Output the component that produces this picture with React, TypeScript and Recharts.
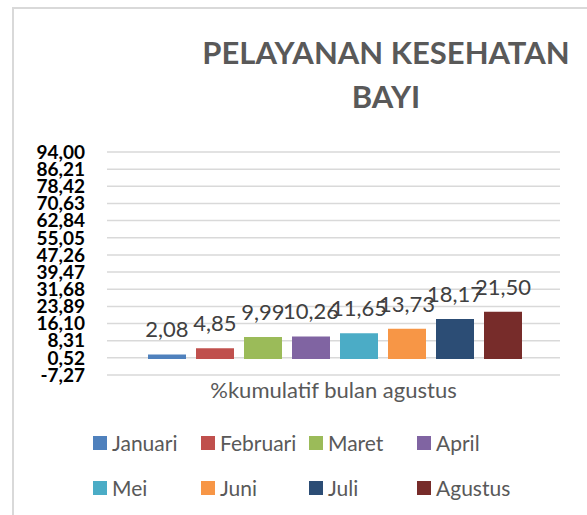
import React from "react";
import { BarChart, Bar, XAxis, YAxis, CartesianGrid, Legend, LabelList } from "recharts";

const categories = ["%kumulatif bulan agustus"];
const seriesNames = ["Januari", "Februari", "Maret", "April", "Mei", "Juni", "Juli", "Agustus"];
const seriesValues = [2.08, 4.85, 9.99, 10.26, 11.65, 13.73, 18.17, 21.5];
const seriesColors = ["#4F81BD", "#C0504D", "#9BBB59", "#8064A2", "#4BACC6", "#F79646", "#2C4D75", "#772C2A"];
const yTicks = [-7.27, 0.52, 8.31, 16.1, 23.89, 31.68, 39.47, 47.26, 55.05, 62.84, 70.63, 78.42, 86.21, 94.0];
const title = ["PELAYANAN KESEHATAN", "BAYI"];

const data = categories.map((c) => {
  const row: Record<string, any> = { category: c };
  seriesNames.forEach((n, i) => {
    row[n] = seriesValues[i];
  });
  return row;
});

const FONT = "Lato, 'Noto Sans', sans-serif";
const fmt = (v: number) => v.toFixed(2).replace(".", ",");

const LegendContent = (props: any) => {
  const payload = props.payload || [];
  const items = seriesNames.map((n, i) => {
    const p = payload.find((q: any) => q.value === n || q.dataKey === n);
    return { name: n, color: (p && p.color) || seriesColors[i] };
  });
  return (
    <div
      style={{
        display: "grid",
        gridTemplateColumns: "repeat(4, 108px)",
        gridAutoRows: "45px",
        paddingLeft: 93,
        fontFamily: FONT,
        fontSize: 21,
        color: "#595959",
      }}
    >
      {items.map((p) => (
        <div key={p.name} style={{ display: "flex", alignItems: "center", whiteSpace: "nowrap" }}>
          <span style={{ display: "inline-block", width: 14, height: 14, background: p.color, marginRight: 5 }} />
          <span>{p.name}</span>
        </div>
      ))}
    </div>
  );
};

export default function App() {
  return (
    <div style={{ position: "absolute", left: 0, top: 0, width: 587, height: 515, overflow: "hidden", background: "#fff" }}>
      <div
        style={{
          position: "absolute",
          left: 12,
          top: 7,
          width: 700,
          height: 700,
          borderLeft: "2px solid #d9d9d9",
          borderTop: "2px solid #d9d9d9",
        }}
      />
      <div
        style={{
          position: "absolute",
          left: 186,
          top: 30,
          width: 400,
          textAlign: "center",
          fontFamily: FONT,
          fontWeight: 700,
          fontSize: 31,
          lineHeight: "44px",
          color: "#595959",
          zIndex: 2,
        }}
      >
        {title.map((t) => (
          <div key={t}>{t}</div>
        ))}
      </div>
      <BarChart
        width={587}
        height={515}
        data={data}
        margin={{ top: 152, right: 27, bottom: 20, left: 0 }}
        barCategoryGap={41}
        barGap={10}
      >
        <CartesianGrid vertical={false} stroke="#d9d9d9" strokeWidth={1.5} />
        <XAxis
          dataKey="category"
          height={30}
          tickLine={false}
          axisLine={false}
          tickSize={0}
          tickMargin={7}
          tick={{ fill: "#595959", fontSize: 22, fontFamily: FONT }}
        />
        <YAxis
          width={107}
          domain={[-7.27, 94]}
          ticks={yTicks}
          interval={0}
          tickLine={false}
          axisLine={false}
          tickSize={0}
          tickMargin={22}
          tickFormatter={fmt}
          tick={{ fill: "#000", fontSize: 19, fontWeight: 700, fontFamily: FONT }}
          allowDataOverflow
        />
        <Legend
          verticalAlign="bottom"
          itemSorter={null as any}
          content={<LegendContent />}
          wrapperStyle={{ top: 420, left: 0, width: 587, height: 90 }}
        />
        {seriesNames.map((n, i) => (
          <Bar key={n} dataKey={n} fill={seriesColors[i]} isAnimationActive={false}>
            <LabelList
              dataKey={n}
              position="top"
              offset={17}
              formatter={(v: any) => fmt(Number(v))}
              style={{ fill: "#404040", fontSize: 22, fontFamily: FONT }}
            />
          </Bar>
        ))}
      </BarChart>
    </div>
  );
}
